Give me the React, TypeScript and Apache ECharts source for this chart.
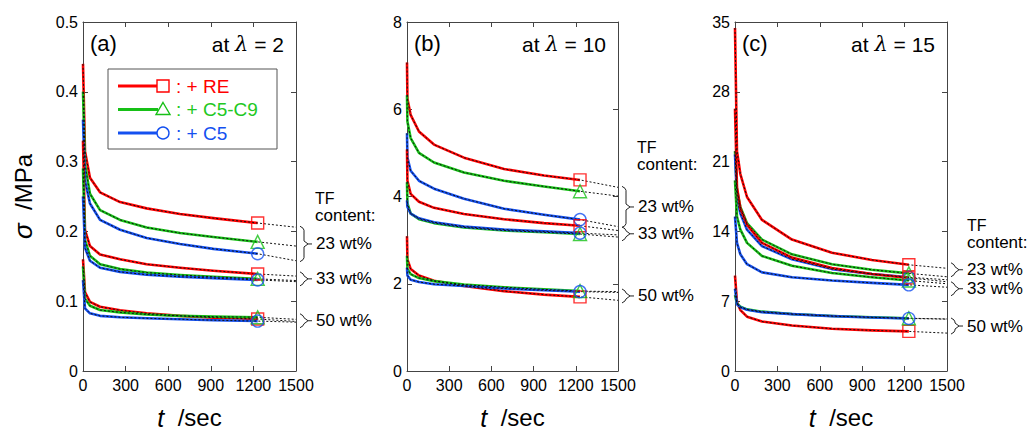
import React, { useEffect, useRef } from 'react';
import * as echarts from 'echarts';

// ---------- data ----------
const T_MARK = 1230; // time of the end markers (sec)
const T_END = 1500;  // end of the extrapolated fits (sec)

// panel (a), lambda = 2, sigma in MPa
const T_A = [0, 14, 49, 120, 261, 448, 683, 918, 1230];
const A23_RE = [0.44, 0.315, 0.277, 0.256, 0.242, 0.233, 0.225, 0.219, 0.212];
const A23_C59 = [0.40, 0.296, 0.254, 0.2305, 0.2165, 0.2056, 0.1976, 0.192, 0.185];
const A23_C5 = [0.36, 0.273, 0.240, 0.2165, 0.2024, 0.1906, 0.182, 0.175, 0.168];
const A33_RE = [0.33, 0.2023, 0.179, 0.167, 0.160, 0.153, 0.148, 0.1437, 0.139];
const A33_C59 = [0.29, 0.188, 0.165, 0.153, 0.146, 0.141, 0.1375, 0.135, 0.132];
const A33_C5 = [0.25, 0.1765, 0.158, 0.148, 0.142, 0.138, 0.135, 0.133, 0.1305];
const A50_RE = [0.16, 0.113, 0.099, 0.092, 0.087, 0.0826, 0.079, 0.0765, 0.0745];
const A50_C59 = [0.15, 0.1037, 0.0934, 0.0873, 0.084, 0.081, 0.079, 0.0779, 0.077];
const A50_C5 = [0.13, 0.0897, 0.0826, 0.079, 0.077, 0.0755, 0.0742, 0.0728, 0.0715];
const A_FIT_END = [[0.206, 0.179, 0.158], [0.136, 0.1296, 0.128], [0.071, 0.074, 0.070]];

// panel (b), lambda = 10
const T_B = [0, 3, 26, 85, 192, 405, 690, 974, 1230];
const B23_RE = [7.07, 6.24, 5.87, 5.49, 5.19, 4.89, 4.63, 4.48, 4.38];
const B23_C59 = [6.32, 5.72, 5.34, 5.00, 4.78, 4.55, 4.36, 4.23, 4.12];
const B23_C5 = [5.45, 4.89, 4.59, 4.36, 4.18, 3.95, 3.72, 3.58, 3.47];
const B33_RE = [5.08, 4.36, 4.06, 3.88, 3.74, 3.60, 3.48, 3.39, 3.33];
const B33_C59 = [4.33, 3.84, 3.61, 3.48, 3.39, 3.29, 3.22, 3.18, 3.14];
const B33_C5 = [3.91, 3.76, 3.61, 3.50, 3.41, 3.31, 3.24, 3.20, 3.16];
const B50_RE = [3.09, 2.56, 2.34, 2.19, 2.07, 1.95, 1.83, 1.75, 1.70];
const B50_C59 = [2.64, 2.34, 2.22, 2.13, 2.06, 1.98, 1.92, 1.87, 1.83];
const B50_C5 = [2.37, 2.19, 2.09, 2.04, 1.99, 1.95, 1.89, 1.85, 1.82];
const B_FIT_END = [[4.21, 4.01, 3.31], [3.22, 3.07, 3.12], [1.62, 1.82, 1.80]];

// panel (c), lambda = 15
const T_C = [0, 14, 38, 85, 191, 403, 686, 969, 1230];
const C23_RE = [34.4, 22.05, 19.75, 17.45, 15.15, 13.18, 11.86, 11.14, 10.65];
const C23_C59 = [22.05, 18.1, 16.46, 14.82, 13.18, 11.70, 10.71, 10.15, 9.79];
const C23_C5 = [21.72, 17.28, 15.8, 14.17, 12.52, 11.21, 10.22, 9.73, 9.40];
const C33_RE = [26.3, 18.44, 16.3, 14.66, 12.85, 11.37, 10.32, 9.73, 9.34];
const C33_C59 = [19.1, 15.48, 14.17, 12.85, 11.54, 10.55, 9.83, 9.40, 9.07];
const C33_C5 = [15.48, 12.85, 11.70, 10.71, 9.89, 9.40, 9.07, 8.84, 8.64];
const C50_RE = [9.56, 6.93, 6.11, 5.45, 4.96, 4.56, 4.24, 4.07, 3.97];
const C50_C59 = [7.59, 6.77, 6.44, 6.18, 5.95, 5.72, 5.52, 5.39, 5.29];
const C50_C5 = [8.25, 6.70, 6.40, 6.15, 5.90, 5.70, 5.50, 5.37, 5.27];
const C_FIT_END = [[10.3, 9.45, 9.15], [8.95, 8.75, 8.4], [3.8, 5.22, 5.2]];

const ADDITIVES = [': + RE', ': + C5-C9', ': + C5'];
const TF_CONTENTS = ['23 wt%', '33 wt%', '50 wt%'];
const X_MAX = 1500;
const X_STEP = 300;

// ---------- style / layout ----------
const FONT = "'Liberation Sans', Arial, Helvetica, sans-serif";
const COLORS = ['#ff0000', '#17c017', '#1450f0'];
const LEGEND_TEXT_COLORS = ['#ff0000', '#22c822', '#1450f0'];
const SYMBOLS = ['rect', 'triangle', 'circle'];
const AXIS_COLOR = '#444';
const LABEL_MIN_SEP = 19;

const PANELS = [
  {
    tag: '(a)', lambda: '2', yMax: 0.5, yStep: 0.1, times: T_A,
    curves: [[A23_RE, A23_C59, A23_C5], [A33_RE, A33_C59, A33_C5], [A50_RE, A50_C59, A50_C5]],
    ends: A_FIT_END,
    grid: { left: 83, top: 22, width: 213, height: 355 },
    tf: { x: 315, y: 198 },
  },
  {
    tag: '(b)', lambda: '10', yMax: 8, yStep: 2, times: T_B,
    curves: [[B23_RE, B23_C59, B23_C5], [B33_RE, B33_C59, B33_C5], [B50_RE, B50_C59, B50_C5]],
    ends: B_FIT_END,
    grid: { left: 407, top: 22, width: 211, height: 355 },
    tf: { x: 637, y: 147 },
  },
  {
    tag: '(c)', lambda: '15', yMax: 35, yStep: 7, times: T_C,
    curves: [[C23_RE, C23_C59, C23_C5], [C33_RE, C33_C59, C33_C5], [C50_RE, C50_C59, C50_C5]],
    ends: C_FIT_END,
    grid: { left: 735, top: 22, width: 212, height: 355 },
    tf: { x: 967, y: 225 },
  },
];

function buildOption() {
  const grid: any[] = [];
  const xAxis: any[] = [];
  const yAxis: any[] = [];
  const series: any[] = [];

  const axisLine = { show: true, onZero: false, lineStyle: { color: AXIS_COLOR, width: 1 } };
  const axisTick = { show: true, inside: true, length: 5, lineStyle: { color: AXIS_COLOR, width: 1 } };
  const labelStyle = { fontSize: 16, color: '#000', fontFamily: FONT, formatter: (v: number) => String(v) };

  PANELS.forEach((p, i) => {
    grid.push({ ...p.grid, containLabel: false });
    xAxis.push({
      type: 'value', gridIndex: i, min: 0, max: X_MAX, interval: X_STEP,
      axisLine, axisTick, splitLine: { show: false },
      axisLabel: { ...labelStyle, margin: 6 },
      name: '{i|t}{n|  /sec}', nameLocation: 'middle', nameGap: 34,
      nameTextStyle: {
        rich: {
          i: { fontSize: 25, fontStyle: 'italic', fontFamily: FONT, color: '#000' },
          n: { fontSize: 24, fontFamily: FONT, color: '#000' },
        },
      },
    });
    yAxis.push({
      type: 'value', gridIndex: i, min: 0, max: p.yMax, interval: p.yStep,
      axisLine, axisTick, splitLine: { show: false },
      axisLabel: { ...labelStyle, margin: 5 },
      ...(i === 0
        ? {
            name: '{i|σ}{n|  /MPa}', nameLocation: 'middle', nameGap: 47, nameRotate: 90,
            nameTextStyle: {
              rich: {
                i: { fontSize: 26, fontStyle: 'italic', fontFamily: FONT, color: '#000' },
                n: { fontSize: 24, fontFamily: FONT, color: '#000' },
              },
            },
          }
        : {}),
    });
  });
  // mirrored frame axes (top / right), ticks only
  PANELS.forEach((p, i) => {
    xAxis.push({
      type: 'value', gridIndex: i, position: 'top', min: 0, max: X_MAX, interval: X_STEP,
      axisLine, axisTick, splitLine: { show: false }, axisLabel: { show: false },
    });
    yAxis.push({
      type: 'value', gridIndex: i, position: 'right', min: 0, max: p.yMax, interval: p.yStep,
      axisLine, axisTick, splitLine: { show: false }, axisLabel: { show: false },
    });
  });

  PANELS.forEach((p, i) => {
    p.curves.forEach((grp) => {
      grp.forEach((vals, k) => {
        const pts = p.times.map((t, j) => [t, vals[j]]);
        series.push({
          type: 'line', xAxisIndex: i, yAxisIndex: i, data: pts,
          symbol: 'none', smooth: false,
          lineStyle: { color: COLORS[k], width: 2.6, join: 'round' }, z: 2, silent: true,
        });
      });
    });
  });
  PANELS.forEach((p, i) => {
    p.curves.forEach((grp, g) => {
      grp.forEach((vals, k) => {
        const pts = p.times.map((t, j) => [t, vals[j]]);
        pts.push([X_MAX, p.ends[g][k]]);
        series.push({
          type: 'line', xAxisIndex: i, yAxisIndex: i, data: pts,
          symbol: 'none', smooth: false,
          lineStyle: { color: '#111', width: 1, type: [2, 2] }, z: 3, silent: true,
        });
        series.push({
          type: 'scatter', xAxisIndex: i, yAxisIndex: i,
          data: [[T_MARK, vals[vals.length - 1]]],
          symbol: SYMBOLS[k], symbolSize: k === 1 ? 13 : 12,
          itemStyle: { color: 'rgba(255,255,255,0)', borderColor: COLORS[k], borderWidth: 1.4 },
          z: 4, silent: true,
        });
      });
    });
  });

  return { animation: false, grid, xAxis, yAxis, series };
}

function staticGraphics(): any[] {
  const els: any[] = [];
  PANELS.forEach((p) => {
    const gl = p.grid.left;
    const gr = p.grid.left + p.grid.width;
    els.push({
      type: 'text', x: gl + 7, y: 43,
      style: { text: p.tag, fontSize: 22, fontFamily: FONT, fill: '#000', verticalAlign: 'middle', align: 'left' },
    });
    els.push({
      type: 'text', x: gr - 12, y: 44,
      style: {
        text: `{a|at }{b|λ}{a| = ${p.lambda}}`,
        align: 'right', verticalAlign: 'middle',
        rich: {
          a: { fontSize: 21, fontFamily: FONT, fill: '#000' },
          b: { fontSize: 21, fontFamily: "'DejaVu Serif', serif", fontStyle: 'italic', fill: '#000' },
        },
      },
    });
    els.push({
      type: 'text', x: p.tf.x, y: p.tf.y,
      style: { text: 'TF', fontSize: 16, fontFamily: FONT, fill: '#000', verticalAlign: 'middle' },
    });
    els.push({
      type: 'text', x: p.tf.x, y: p.tf.y + 17,
      style: { text: 'content:', fontSize: 17, fontFamily: FONT, fill: '#000', verticalAlign: 'middle' },
    });
  });

  // legend box in panel (a)
  els.push({
    type: 'rect', shape: { x: 108, y: 69, width: 169, height: 80 },
    style: { fill: '#fff', stroke: '#555', lineWidth: 1 }, z: 50,
  });
  ADDITIVES.forEach((name, k) => {
    const y = 86 + k * 23.5;
    els.push({ type: 'line', shape: { x1: 118, y1: y, x2: 158, y2: y }, style: { stroke: COLORS[k], lineWidth: 3 }, z: 51 });
    if (k === 0) {
      els.push({ type: 'rect', shape: { x: 157, y: y - 6, width: 12, height: 12 }, style: { fill: '#fff', stroke: COLORS[k], lineWidth: 1.4 }, z: 52 });
    } else if (k === 1) {
      els.push({ type: 'polygon', shape: { points: [[163, y - 7], [170, y + 5], [156, y + 5]] }, style: { fill: '#fff', stroke: COLORS[k], lineWidth: 1.4 }, z: 52 });
    } else {
      els.push({ type: 'circle', shape: { cx: 163, cy: y, r: 6 }, style: { fill: '#fff', stroke: COLORS[k], lineWidth: 1.4 }, z: 52 });
    }
    els.push({
      type: 'text', x: 176, y, z: 52,
      style: { text: name, fontSize: 19, fontFamily: FONT, fill: LEGEND_TEXT_COLORS[k], verticalAlign: 'middle' },
    });
  });
  return els;
}

function braceGraphics(chart: any): any[] {
  const els: any[] = [];
  PANELS.forEach((p, i) => {
    const braces: { x: number; top: number; bot: number }[] = [];
    p.ends.forEach((grp) => {
      const pts = grp.map((v) => chart.convertToPixel({ xAxisIndex: i, yAxisIndex: i }, [X_MAX, v]));
      if (!pts[0]) return;
      const ys = pts.map((q: number[]) => q[1]);
      let top = Math.min(...ys) - 1;
      let bot = Math.max(...ys) + 1;
      if (bot - top < 14) {
        const mid0 = (top + bot) / 2;
        top = mid0 - 7;
        bot = mid0 + 7;
      }
      braces.push({ x: pts[0][0], top, bot });
    });
    // keep the labels of neighbouring braces apart
    for (let g = 1; g < braces.length; g++) {
      const a = braces[g - 1];
      const b = braces[g];
      const deficit = (a.top + a.bot) / 2 + LABEL_MIN_SEP - (b.top + b.bot) / 2;
      if (deficit > 0) {
        a.top -= deficit / 2; a.bot -= deficit / 2;
        b.top += deficit / 2; b.bot += deficit / 2;
      }
    }
    braces.forEach(({ x, top, bot }, g) => {
      const mid = (top + bot) / 2;
      const x0 = x + 4;
      els.push({
        type: 'polyline',
        shape: {
          points: [[x0, top], [x0 + 3, top + 2], [x0 + 4, top + 4], [x0 + 4, mid - 3], [x0 + 8, mid],
            [x0 + 4, mid + 3], [x0 + 4, bot - 4], [x0 + 3, bot - 2], [x0, bot]],
        },
        style: { stroke: '#222', lineWidth: 1, fill: null },
      });
      els.push({ type: 'line', shape: { x1: x0 + 8, y1: mid, x2: x0 + 12, y2: mid }, style: { stroke: '#222', lineWidth: 1 } });
      els.push({
        type: 'text', x: x0 + 16, y: mid,
        style: { text: TF_CONTENTS[g], fontSize: 17, fontFamily: FONT, fill: '#000', verticalAlign: 'middle' },
      });
    });
  });
  return els;
}

export default function App() {
  const ref = useRef<HTMLDivElement>(null);
  useEffect(() => {
    if (!ref.current) return;
    const chart = echarts.init(ref.current, null, { renderer: 'svg' });
    chart.setOption(buildOption() as any);
    const graphic = [...staticGraphics(), ...braceGraphics(chart)];
    chart.setOption({ graphic } as any);
    return () => chart.dispose();
  }, []);
  return (
    <div
      ref={ref}
      style={{ position: 'fixed', left: 0, top: 0, width: 1027, height: 435, background: '#fff' }}
    />
  );
}
